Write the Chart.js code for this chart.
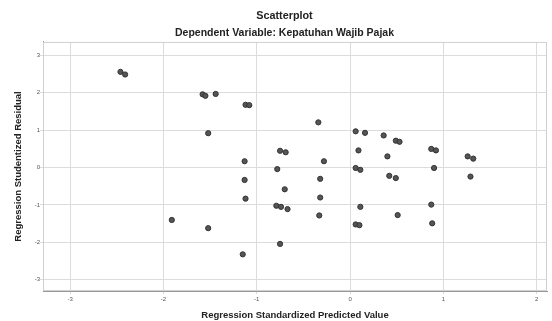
<!DOCTYPE html>
<html>
<head>
<meta charset="utf-8">
<script src="https://cdn.jsdelivr.net/npm/chart.js@4"></script>
<style>
  html, body { margin: 0; padding: 0; background: #fff; }
  #wrap { width: 552px; height: 321px; }
</style>
</head>
<body>
<div id="wrap"><canvas id="scatterChart"></canvas></div>
<script>
// Regression Standardized Predicted Value (x)
const predictedValues = [
  -2.46, -2.41, -1.58, -1.55, -1.44, -1.12, -1.08, -1.52, -0.75, -0.69,
  -1.13, -0.78, -1.13, -0.70, -1.12, -0.79, -0.74, -0.67, -1.91, -1.52,
  -0.75, -1.15, -0.34, 0.06, 0.16, 0.36, 0.49, 0.53, 0.87, 0.92,
  1.26, 1.32, 0.09, 0.40, -0.28, 0.06, 0.11, 0.90, -0.32, 0.42,
  0.49, 1.29, -0.32, 0.87, 0.11, -0.33, 0.51, 0.88, 0.06, 0.10
];
// Regression Studentized Residual (y)
const studentizedResiduals = [
  2.56, 2.49, 1.96, 1.92, 1.97, 1.68, 1.67, 0.92, 0.45, 0.41,
  0.17, -0.04, -0.33, -0.58, -0.83, -1.02, -1.05, -1.11, -1.40, -1.62,
  -2.04, -2.32, 1.21, 0.97, 0.93, 0.86, 0.72, 0.69, 0.50, 0.46,
  0.30, 0.24, 0.46, 0.30, 0.17, -0.01, -0.06, -0.01, -0.30, -0.22,
  -0.28, -0.24, -0.80, -0.99, -1.05, -1.28, -1.27, -1.49, -1.52, -1.54
];
const xTicks = [-3, -2, -1, 0, 1, 2];
const yTicks = [-3, -2, -1, 0, 1, 2, 3];

const points = predictedValues.map((x, i) => ({ x: x, y: studentizedResiduals[i] }));

// frame around the plot area
const framePlugin = {
  id: 'frame',
  beforeDatasetsDraw(chart) {
    const { ctx, chartArea: a } = chart;
    ctx.save();
    ctx.strokeStyle = '#d0d0d0';
    ctx.lineWidth = 1;
    ctx.strokeRect(a.left + 0.5, a.top + 0.5, a.right - a.left - 1, a.bottom - a.top - 1);
    ctx.restore();
  }
};

const ctx = document.getElementById('scatterChart');
new Chart(ctx, {
  type: 'scatter',
  data: {
    datasets: [{
      label: 'Residual',
      data: points,
      backgroundColor: '#555555',
      borderColor: '#333333',
      borderWidth: 1,
      pointRadius: 2.6
    }]
  },
  options: {
    responsive: true,
    maintainAspectRatio: false,
    animation: false,
    // left padding shifts the centred titles like the original
    layout: { padding: { left: 21, right: 4, top: 0, bottom: 0 } },
    plugins: {
      legend: { display: false },
      tooltip: { enabled: false },
      title: {
        display: true,
        text: 'Scatterplot',
        color: '#222',
        font: { family: 'Liberation Sans', size: 10.8, weight: 'bold' },
        padding: { top: 9.2, bottom: 1.8 }
      },
      subtitle: {
        display: true,
        text: 'Dependent Variable: Kepatuhan Wajib Pajak',
        color: '#222',
        font: { family: 'Liberation Sans', size: 10.5, weight: 'bold' },
        padding: { top: 2.7, bottom: 2.7 }
      }
    },
    scales: {
      x: {
        type: 'linear',
        min: -3.29,
        max: 2.11,
        afterFit: (s) => { s.height = 30; },
        afterBuildTicks: (s) => { s.ticks = xTicks.map(v => ({ value: v })); },
        ticks: {
          color: '#555',
          font: { family: 'Liberation Sans', size: 6 },
          padding: 2,
          includeBounds: false
        },
        grid: { color: '#dcdcdc', tickLength: 3 },
        border: { color: '#999' },
        title: {
          display: true,
          text: 'Regression Standardized Predicted Value',
          color: '#222',
          font: { family: 'Liberation Sans', size: 9.5, weight: 'bold' },
          padding: { top: 2, bottom: 0 }
        }
      },
      y: {
        type: 'linear',
        min: -3.30,
        max: 3.36,
        afterFit: (s) => { s.width = 22; },
        afterBuildTicks: (s) => { s.ticks = yTicks.map(v => ({ value: v })); },
        ticks: {
          color: '#555',
          font: { family: 'Liberation Sans', size: 6 },
          padding: 0,
          includeBounds: false
        },
        grid: { color: '#dcdcdc', tickLength: 3 },
        border: { color: '#999' },
        title: {
          display: true,
          text: 'Regression Studentized Residual',
          color: '#222',
          font: { family: 'Liberation Sans', size: 9.5, weight: 'bold' },
          padding: { top: -8.7, bottom: 0 }
        }
      }
    }
  },
  plugins: [framePlugin]
});
</script>
</body>
</html>
